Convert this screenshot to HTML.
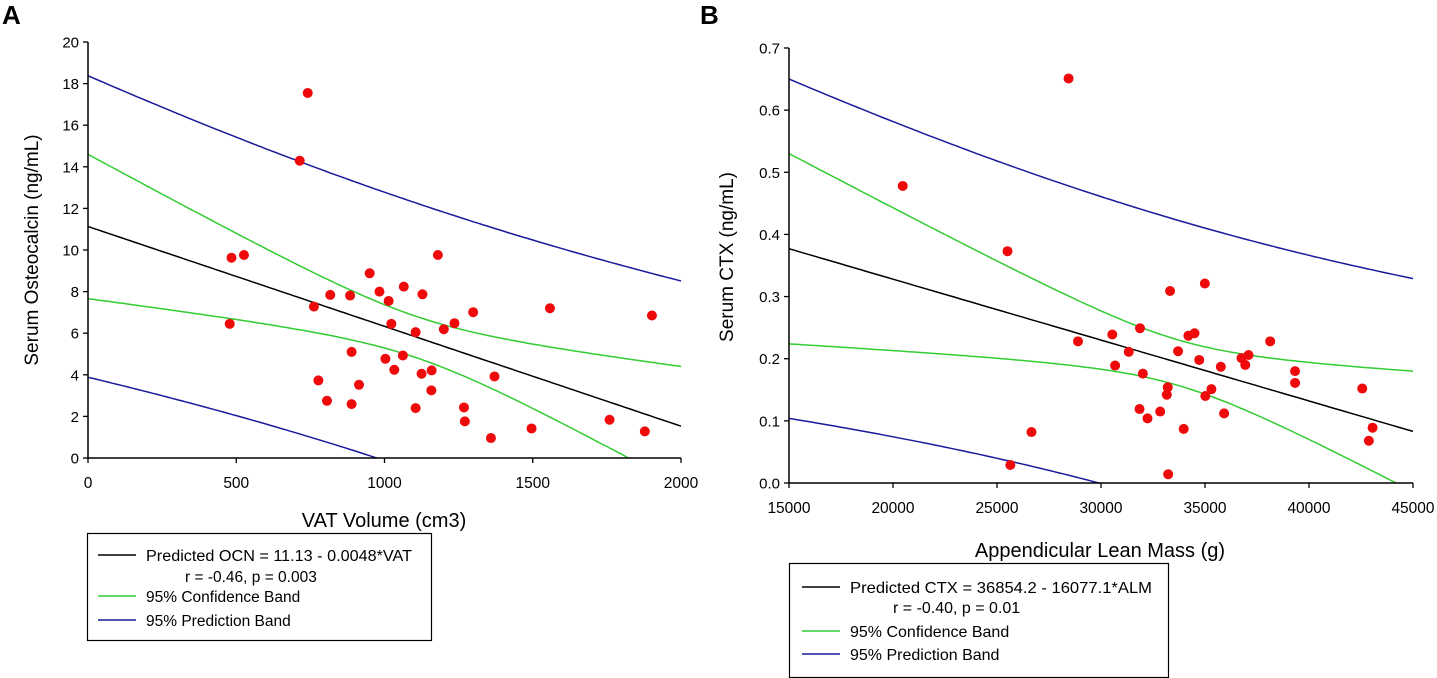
<!DOCTYPE html>
<html><head><meta charset="utf-8"><style>
html,body{margin:0;padding:0;background:#fff}
svg{display:block;font-family:"Liberation Sans",Arial,sans-serif}
</style></head><body>
<svg id="chart" width="1437" height="678" viewBox="0 0 1437 678" xmlns="http://www.w3.org/2000/svg">
<text x="2" y="24" font-size="26" font-weight="bold">A</text>
<text x="700" y="24" font-size="26" font-weight="bold">B</text>
<g id="pa"></g>
<g id="pb"></g>
<g>
<rect x="87.5" y="533.5" width="344" height="107" fill="none" stroke="#000" stroke-width="1.2"/>
<line x1="98" y1="555" x2="136" y2="555" stroke="#000" stroke-width="1.5"/>
<text x="146" y="561" font-size="15.5" textLength="266" lengthAdjust="spacingAndGlyphs">Predicted OCN = 11.13 - 0.0048*VAT</text>
<text x="185" y="582" font-size="15.5">r = -0.46, p = 0.003</text>
<line x1="98" y1="596" x2="136" y2="596" stroke="#33cc33" stroke-width="1.5"/>
<text x="146" y="602" font-size="15.5">95% Confidence Band</text>
<line x1="98" y1="620" x2="136" y2="620" stroke="#1a1a9c" stroke-width="1.5"/>
<text x="146" y="626" font-size="15.5">95% Prediction Band</text>
</g>
<g>
<rect x="789.5" y="563.5" width="379" height="114" fill="none" stroke="#000" stroke-width="1.2"/>
<line x1="802" y1="587" x2="840" y2="587" stroke="#000" stroke-width="1.5"/>
<text x="850" y="593" font-size="16" textLength="302" lengthAdjust="spacingAndGlyphs">Predicted CTX = 36854.2 - 16077.1*ALM</text>
<text x="893" y="613" font-size="16">r = -0.40, p = 0.01</text>
<line x1="802" y1="631" x2="840" y2="631" stroke="#33cc33" stroke-width="1.5"/>
<text x="850" y="637" font-size="16">95% Confidence Band</text>
<line x1="802" y1="654" x2="840" y2="654" stroke="#1a1a9c" stroke-width="1.5"/>
<text x="850" y="660" font-size="16">95% Prediction Band</text>
</g>
</svg>
<script>
const aVat = [484,526,478,741,714,762,817,884,950,983,1014,1023,1065,1128,1180,1105,1200,1236,1299,1558,1902,889,1003,1062,1033,1125,1159,777,806,889,914,1158,1105,1268,1271,1371,1359,1496,1759,1878];
const aOcn = [9.63,9.76,6.45,17.55,14.29,7.28,7.84,7.81,8.88,8.0,7.55,6.45,8.24,7.87,9.76,6.05,6.19,6.48,7.01,7.2,6.85,5.1,4.77,4.93,4.24,4.05,4.21,3.73,2.75,2.59,3.52,3.25,2.4,2.43,1.76,3.92,0.96,1.42,1.84,1.28];
const aXTicks = [0,500,1000,1500,2000];
const aXTickLabels = ["0","500","1000","1500","2000"];
const aYTicks = [0,2,4,6,8,10,12,14,16,18,20];
const aModel = [11.13, -0.0048];
const aBand = [40.5, 0.985, 9.05e-6, 1105];

const bAlm = [28441,20467,25505,25641,26657,28893,30542,30678,31333,31875,32011,31852,32236,32846,33320,33208,33163,33230,33705,33976,34202,34496,34722,34993,35016,35309,35761,35919,36755,36935,37093,38133,39330,39330,42560,42877,43057];
const bCtx = [0.651,0.478,0.373,0.029,0.082,0.228,0.239,0.189,0.211,0.249,0.176,0.119,0.104,0.115,0.309,0.154,0.142,0.014,0.212,0.087,0.237,0.241,0.198,0.321,0.14,0.151,0.187,0.112,0.201,0.19,0.206,0.228,0.18,0.161,0.152,0.068,0.089];
const bXTicks = [15000,20000,25000,30000,35000,40000,45000];
const bYTicks = [0,0.1,0.2,0.3,0.4,0.5,0.6,0.7];
const bModel = [0.524, -9.8e-6];
const bBand = [0.0511, 0.00134, 6.32e-11, 33705];

const NS = "http://www.w3.org/2000/svg";
function mk(parent, tag, attrs){
  const e = document.createElementNS(NS, tag);
  for (const k in attrs) e.setAttribute(k, attrs[k]);
  parent.appendChild(e); return e;
}

function panel(g, o){
  const sx = v => o.x0 + (v - o.xmin) / (o.xmax - o.xmin) * (o.x1 - o.x0);
  const sy = v => o.y0 - (v - o.ymin) / (o.ymax - o.ymin) * (o.y0 - o.y1);
  const cid = o.id + "clip";
  const defs = mk(g, "defs", {});
  const cp = mk(defs, "clipPath", {id: cid});
  mk(cp, "rect", {x: o.x0, y: o.y1 - 5, width: o.x1 - o.x0 + 3, height: o.y0 - o.y1 + 5});
  const N = 120;
  const curves = [
    {f: x => o.model[0] + o.model[1]*x, c: "#000", n: "regression-line"},
    {f: x => o.model[0] + o.model[1]*x + Math.sqrt(o.band[1] + o.band[2]*(x-o.band[3])**2), c: "#33cc33", n: "confidence-upper"},
    {f: x => o.model[0] + o.model[1]*x - Math.sqrt(o.band[1] + o.band[2]*(x-o.band[3])**2), c: "#33cc33", n: "confidence-lower"},
    {f: x => o.model[0] + o.model[1]*x + Math.sqrt(o.band[0] + o.band[1] + o.band[2]*(x-o.band[3])**2), c: "#1a1a9c", n: "prediction-upper"},
    {f: x => o.model[0] + o.model[1]*x - Math.sqrt(o.band[0] + o.band[1] + o.band[2]*(x-o.band[3])**2), c: "#1a1a9c", n: "prediction-lower"}
  ];
  curves.forEach(cv => {
    let d = "";
    for (let i = 0; i <= N; i++){
      const x = o.xmin + (o.xmax - o.xmin) * i / N;
      d += (i ? "L" : "M") + sx(x).toFixed(1) + "," + sy(cv.f(x)).toFixed(1);
    }
    const p = mk(g, "path", {d: d, fill: "none", stroke: cv.c, "stroke-width": 1.5, "clip-path": "url(#" + cid + ")"});
    
    
  });
  const ax = mk(g, "path", {d: `M${o.x0},${o.y1}V${o.y0}H${o.x1}`, fill: "none", stroke: "#000", "stroke-width": 1.5});
  
  
  o.yt.forEach(v => {
    const y = sy(v);
    mk(g, "line", {x1: o.x0 - 5, x2: o.x0, y1: y, y2: y, stroke: "#000", "stroke-width": 1.3});
    const t = mk(g, "text", {x: o.x0 - 9, y: y + 5.5, "font-size": 15, "text-anchor": "end"});
    t.textContent = o.yfmt(v);
    
    
  });
  o.xt.forEach((v, i) => {
    const x = sx(v);
    mk(g, "line", {x1: x, x2: x, y1: o.y0, y2: o.y0 + 5, stroke: "#000", "stroke-width": 1.3});
    const t = mk(g, "text", {x: x, y: o.y0 + 30, "font-size": 15.5, "text-anchor": "middle"});
    t.textContent = o.xlab ? o.xlab[i] : String(v);
    
    
  });
  o.xs.forEach((v, i) => {
    const c = mk(g, "circle", {cx: sx(v), cy: sy(o.ys[i]), r: 5, fill: "#ee0a0a"});
    
    
  });
  const xt = mk(g, "text", {x: o.xtx, y: o.xty, "font-size": 20, "text-anchor": "middle"});
  xt.textContent = o.xtitle;
  
  
  const yt = mk(g, "text", {x: 0, y: 0, "font-size": 19, "text-anchor": "middle", transform: `translate(${o.ytx},${o.yty}) rotate(-90)`});
  yt.textContent = o.ytitle;
  
  
}

panel(document.getElementById("pa"), {
  id: "a", x0: 88, x1: 681, y0: 458, y1: 42, xmin: 0, xmax: 2000, ymin: 0, ymax: 20,
  xt: aXTicks, xlab: aXTickLabels, yt: aYTicks, yfmt: v => String(v),
  xs: aVat, ys: aOcn, model: aModel, band: aBand,
  xtitle: "VAT Volume (cm3)", xtx: 384, xty: 527, ytitle: "Serum Osteocalcin (ng/mL)", ytx: 38, yty: 250
});
panel(document.getElementById("pb"), {
  id: "b", x0: 789, x1: 1413, y0: 483, y1: 48, xmin: 15000, xmax: 45000, ymin: 0, ymax: 0.7,
  xt: bXTicks, yt: bYTicks, yfmt: v => v.toFixed(1),
  xs: bAlm, ys: bCtx, model: bModel, band: bBand,
  xtitle: "Appendicular Lean Mass (g)", xtx: 1100, xty: 557, ytitle: "Serum CTX  (ng/mL)", ytx: 733, yty: 257
});
</script>
</body></html>
